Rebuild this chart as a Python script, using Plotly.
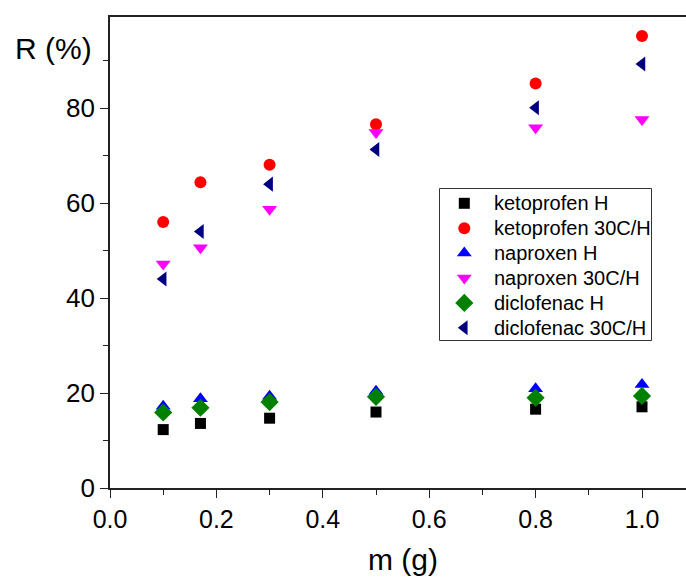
import plotly.graph_objects as go

m = [0.1, 0.17, 0.3, 0.5, 0.8, 1.0]
keto_H = [12.3, 13.6, 14.7, 16.0, 16.6, 17.1]
keto_30C = [56.0, 64.4, 68.1, 76.6, 85.2, 95.2]
napro_H = [17.2, 18.8, 19.3, 20.4, 20.9, 21.8]
napro_30C = [47.2, 50.6, 58.7, 74.9, 75.9, 77.6]
diclo_H = [15.9, 16.9, 18.1, 19.2, 19.0, 19.4]
diclo_30C = [44.0, 54.0, 64.0, 71.3, 80.1, 89.3]

names = ["ketoprofen H", "ketoprofen 30C/H", "naproxen H",
         "naproxen 30C/H", "diclofenac H", "diclofenac 30C/H"]
values = [keto_H, keto_30C, napro_H, napro_30C, diclo_H, diclo_30C]
symbols = ["square", "circle", "triangle-up", "triangle-down", "diamond", "triangle-left"]
colors = ["#000000", "#FF0000", "#0000FF", "#FF00FF", "#008000", "#000080"]
sizes = [11, 12, 13, 13, 14, 13]

FONT = "Arial, Liberation Sans, sans-serif"

# plot area in pixels
L, R, T, B = 110, 686, 17, 488
W, H = 686, 579

fig = go.Figure()
for name, ys, sym, col, sz in zip(names, values, symbols, colors, sizes):
    fig.add_trace(go.Scatter(
        x=m, y=ys, mode="markers", name=name, showlegend=False,
        marker=dict(symbol=sym, color=col, size=sz, line=dict(width=0)),
    ))

# custom legend (pixel layout on overlay axes)
LEG_X0, LEG_X1, LEG_Y0, LEG_Y1 = 439.5, 651.5, 188.5, 340.5
ROW0, ROW_STEP = 203.3, 24.9
MARK_X, TEXT_X = 464.3, 491.5
rows_y = [ROW0 + i * ROW_STEP for i in range(len(names))]
for i, (sym, col, sz) in enumerate(zip(symbols, colors, sizes)):
    fig.add_trace(go.Scatter(
        x=[MARK_X], y=[rows_y[i]], mode="markers", showlegend=False,
        xaxis="x2", yaxis="y2", hoverinfo="skip",
        marker=dict(symbol=sym, color=col, size=sz, line=dict(width=0)),
    ))

def px_x(p):
    return (p - L) / (R - L)

def px_y(p):
    return (B - p) / (B - T)

annotations = [
    dict(text="R (%)", x=px_x(53), y=px_y(49), xref="paper", yref="paper",
         showarrow=False, xanchor="center", yanchor="middle",
         font=dict(family=FONT, size=30, color="black")),
    dict(text="m (g)", x=px_x(403), y=px_y(559), xref="paper", yref="paper",
         showarrow=False, xanchor="center", yanchor="middle",
         font=dict(family=FONT, size=30, color="black")),
]
for i, name in enumerate(names):
    annotations.append(dict(
        text=name, x=px_x(TEXT_X), y=px_y(rows_y[i]), xref="paper", yref="paper",
        showarrow=False, xanchor="left", yanchor="middle",
        font=dict(family=FONT, size=20, color="black")))

shapes = [dict(type="rect", xref="paper", yref="paper",
               x0=px_x(LEG_X0), x1=px_x(LEG_X1), y0=px_y(LEG_Y1), y1=px_y(LEG_Y0),
               line=dict(color="#333333", width=1), fillcolor="white", layer="below")]

tick_common = dict(showgrid=False, zeroline=False, showline=True,
                   linecolor="#222222", linewidth=1.6,
                   ticks="outside", ticklen=8, tickwidth=1.4, tickcolor="#222222")

fig.update_layout(
    width=W, height=H,
    margin=dict(l=L, r=W - R, t=T, b=H - B),
    paper_bgcolor="white", plot_bgcolor="white",
    font=dict(family=FONT, color="black"),
    showlegend=False,
    xaxis=dict(
        range=[0, 576 / 532], mirror=True,
        tick0=0, dtick=0.2, tickformat=".1f",
        tickfont=dict(family=FONT, size=25, color="black"),
        minor=dict(ticks="outside", ticklen=5, tickwidth=1.4, tickcolor="#222222", dtick=0.1, tick0=0),
        **tick_common,
    ),
    yaxis=dict(
        range=[0, 99.2], mirror=False,
        tick0=0, dtick=20,
        tickfont=dict(family=FONT, size=26, color="black"),
        minor=dict(ticks="outside", ticklen=5, tickwidth=1.4, tickcolor="#222222", dtick=10, tick0=0),
        **tick_common,
    ),
    xaxis2=dict(range=[L, R], overlaying="x", visible=False, fixedrange=True),
    yaxis2=dict(range=[B, T], overlaying="y", visible=False, fixedrange=True),
    annotations=annotations,
    shapes=shapes,
)

fig.write_html("out.html")
